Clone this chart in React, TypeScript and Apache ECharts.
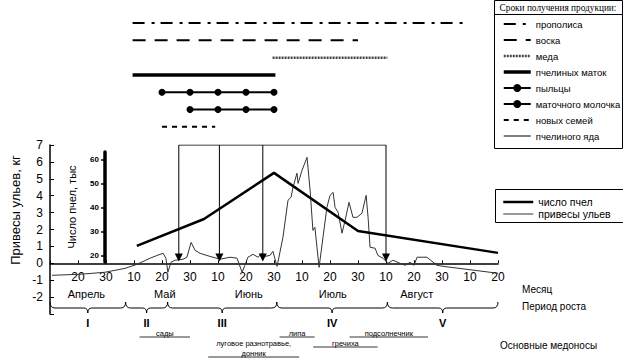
import React, { useEffect, useRef } from 'react';
import * as echarts from 'echarts';

// ---- data ----
const dekadLabels = ['', '20', '30', '10', '20', '30', '10', '20', '30', '10', '20', '30', '10', '20', '30', '10', '20'];
const monthNames = ['Апрель', 'Май', 'Июнь', 'Июль', 'Август'];
const monthPos = [1.3, 4.1, 7.1, 10.1, 13.1];
const periodNames = ['I', 'II', 'III', 'IV', 'V'];
const periodBounds = [0, 2.7, 4.2, 8.1, 12.05, 16];

// hive weight gain, kg (x in dekads from 10 April)
const weightPos = [0.07, 1.07, 1.96, 2.68, 3.11, 3.57, 3.93, 4.04, 4.14, 4.21, 4.32, 4.46, 4.75, 4.89, 5.04, 5.18, 5.36, 5.71, 6.07, 6.43, 6.68, 6.86, 6.96, 7.07, 7.25, 7.43, 7.57, 7.68, 7.86, 7.96, 8.11, 8.32, 8.5, 8.61, 8.68, 8.82, 8.86, 9.0, 9.18, 9.29, 9.39, 9.46, 9.61, 9.75, 9.89, 10.0, 10.11, 10.18, 10.29, 10.43, 10.54, 10.68, 10.82, 10.96, 11.14, 11.29, 11.36, 11.43, 11.61, 11.71, 11.89, 12.07, 12.25, 12.5, 12.68, 12.86, 13.0, 13.11, 13.46, 13.82, 14.04, 16.0];
const weightKg = [-0.71, -0.65, -0.53, -0.3, -0.06, 0.3, 0.53, 0.59, 0.3, -0.53, 0.06, 0.18, 0.24, 0.36, 1.24, 0.77, 0.59, 0.41, 0.24, 0.36, 0.3, -0.53, -0.12, 0.36, 0.53, 0.36, 0.59, 0.41, 0.47, 0.71, -0.18, 1.54, 3.73, 3.91, 4.5, 5.33, 4.73, 5.5, 6.27, 4.32, 1.95, 2.13, -0.24, 1.54, 3.31, 4.02, 4.2, 3.31, 3.02, 1.78, 2.54, 3.61, 2.72, 2.72, 2.96, 4.02, 2.72, 0.95, 0.89, 0.47, 0.3, 0, 0.18, 0, -0.12, 0.06, -0.12, 0.36, 0.36, -0.12, -0.18, -0.59];

// number of bees, thousands
const beePos = [3.1, 5.5, 8.0, 11.0, 16.0];
const beeThousands = [24.2, 35.4, 54.6, 30.4, 21.3];
const beeTicks = [20, 30, 40, 50, 60];

// production periods
const productNames = ['прополиса', 'воска', 'меда', 'пчелиных маток', 'пыльцы', 'маточного молочка', 'новых семей', 'пчелиного яда'];
const productStart = [2.95, 2.95, 7.95, 2.95, null, null, 4.0];
const productEnd = [14.8, 11.0, 12.05, 8.05, null, null, 5.9];
const pollenDays = [4, 5, 6, 7, 8];
const jellyDays = [5, 6, 7, 8];

// arrows (period markers)
const arrowPos = [4.6, 6.05, 7.6, 12.0];
const arrowTop = 7;
const arrowTip = 0.1;

// honey plants
const honeyNames = ['сады', 'липа', 'подсолнечник', 'луговое разнотравье,\nдонник', 'гречиха'];
const honeyStart = [3.2, 8.2, 10.7, 5.65, 9.4];
const honeyEnd = [5.0, 9.45, 13.5, 8.9, 11.7];
const honeyRow = [0, 0, 0, 2, 1];

const FONT = '"Liberation Sans", Arial, sans-serif';

const KG_MIN = -3;
const KG_MAX = 7;
const GRID0_TOP = 145;
const GRID0_H = 169;

export default function App() {
  const ref = useRef<HTMLDivElement>(null);
  useEffect(() => {
    const chart = echarts.init(ref.current!, null, { renderer: 'svg' });

    const productStyles: any[] = [
      { type: [12, 7, 3, 6], width: 2, color: '#000' },
      { type: [13, 9], width: 2, color: '#000' },
      { type: [2, 1], width: 2.5, color: '#444' },
      { type: 'solid', width: 3.5, color: '#000' },
      { type: 'solid', width: 2, color: '#000' },
      { type: 'solid', width: 2, color: '#000' },
      { type: [5, 5], width: 2, color: '#000' },
      { type: 'solid', width: 1, color: '#000' },
    ];

    const productSeries = productNames.map((name, i) => {
      let data: any[] = [];
      if (i === 4) data = pollenDays.map((d) => [d, name]);
      else if (i === 5) data = jellyDays.map((d) => [d, name]);
      else if (productStart[i] != null) data = [[productStart[i], name], [productEnd[i], name]];
      const st = productStyles[i];
      const dots = i === 4 || i === 5;
      return {
        type: 'line',
        name,
        xAxisIndex: 2,
        yAxisIndex: 2,
        data,
        symbol: dots ? 'circle' : 'none',
        symbolSize: 7,
        showSymbol: dots,
        lineStyle: { color: st.color, width: st.width, type: st.type },
        itemStyle: { color: '#000' },
        silent: true,
        z: 3,
      };
    });

    const monthSeries = {
      type: 'custom',
      xAxisIndex: 0,
      yAxisIndex: 0,
      silent: true,
      clip: false,
      data: monthPos.map((p) => [p, 0]),
      renderItem: (params: any, api: any) => {
        const x = api.coord([api.value(0), 0])[0];
        return {
          type: 'text',
          x,
          y: 294,
          style: { text: monthNames[params.dataIndex], font: `11px ${FONT}`, fill: '#000', align: 'center', verticalAlign: 'middle' },
        };
      },
    };

    const braceSeries = {
      type: 'custom',
      xAxisIndex: 0,
      yAxisIndex: 0,
      silent: true,
      clip: false,
      data: periodNames.map((_, i) => [periodBounds[i], periodBounds[i + 1]]),
      renderItem: (params: any, api: any) => {
        const x1 = api.coord([api.value(0), 0])[0];
        const x2 = api.coord([api.value(1), 0])[0];
        const cx = (x1 + x2) / 2;
        const y = 308;
        const d = `M${x1},${y - 6} Q${x1},${y} ${x1 + 5},${y} L${cx - 4},${y} Q${cx},${y} ${cx},${y + 5} Q${cx},${y} ${cx + 4},${y} L${x2 - 5},${y} Q${x2},${y} ${x2},${y - 6}`;
        return {
          type: 'group',
          children: [
            { type: 'path', shape: { pathData: d }, style: { stroke: '#000', fill: 'none', lineWidth: 1 } },
            {
              type: 'text',
              x: cx,
              y: 323,
              style: { text: periodNames[params.dataIndex], font: `bold 11px ${FONT}`, fill: '#000', align: 'center', verticalAlign: 'middle' },
            },
          ],
        };
      },
    };

    const honeySeries = {
      type: 'custom',
      xAxisIndex: 0,
      yAxisIndex: 0,
      silent: true,
      clip: false,
      data: honeyNames.map((_, i) => [honeyStart[i], honeyEnd[i]]),
      renderItem: (params: any, api: any) => {
        const i = params.dataIndex;
        const x1 = api.coord([api.value(0), 0])[0];
        const x2 = api.coord([api.value(1), 0])[0];
        const ly = 337 + honeyRow[i] * 10;
        return {
          type: 'group',
          children: [
            { type: 'line', shape: { x1, y1: ly, x2, y2: ly }, style: { stroke: '#000', lineWidth: 0.8 } },
            {
              type: 'text',
              x: (x1 + x2) / 2,
              y: ly + 1,
              style: { text: honeyNames[i], font: `7.5px ${FONT}`, fill: '#000', align: 'center', verticalAlign: 'bottom', lineHeight: 10 },
            },
          ],
        };
      },
    };

    const arrowSeries = {
      type: 'custom',
      xAxisIndex: 0,
      yAxisIndex: 0,
      silent: true,
      clip: false,
      z: 4,
      data: arrowPos.map((p) => [p, arrowTop]),
      renderItem: (params: any, api: any) => {
        const top = api.coord([api.value(0), arrowTop]);
        const tip = api.coord([api.value(0), arrowTip]);
        const x = top[0];
        return {
          type: 'group',
          children: [
            { type: 'line', shape: { x1: x, y1: top[1], x2: x, y2: tip[1] - 7 }, style: { stroke: '#000', lineWidth: 1 } },
            { type: 'polygon', shape: { points: [[x - 4, tip[1] - 8], [x + 4, tip[1] - 8], [x, tip[1]]] }, style: { fill: '#000' } },
          ],
        };
      },
    };

    // x axis sits on the zero line of the kg axis
    const xOffset = -(0 - KG_MIN) * (GRID0_H / (KG_MAX - KG_MIN));

    const option: any = {
      animation: false,
      backgroundColor: '#fff',
      textStyle: { fontFamily: FONT, color: '#000' },
      grid: [
        { left: 50, right: 125, top: GRID0_TOP, height: GRID0_H },
        { left: 50, right: 125, top: 152, height: 110 },
        { left: 50, right: 125, top: 14.4, height: 138.4 },
      ],
      xAxis: [
        {
          gridIndex: 0,
          type: 'value',
          position: 'bottom',
          offset: xOffset,
          min: 0,
          max: 16,
          interval: 1,
          axisLine: { onZero: false, lineStyle: { color: '#000', width: 1.5 } },
          axisTick: { inside: true, length: 3, lineStyle: { color: '#000' } },
          axisLabel: {
            formatter: (v: number) => dekadLabels[Math.round(v)] ?? '',
            fontSize: 12,
            fontFamily: FONT,
            color: '#000',
            margin: 8,
            showMinLabel: true,
            showMaxLabel: true,
          },
          splitLine: { show: false },
        },
        { gridIndex: 1, type: 'value', min: 0, max: 16, show: false },
        { gridIndex: 2, type: 'value', min: 0, max: 16, show: false },
      ],
      yAxis: [
        {
          gridIndex: 0,
          type: 'value',
          min: KG_MIN,
          max: KG_MAX,
          interval: 1,
          axisLine: { show: true, onZero: false, lineStyle: { color: '#000', width: 1.5 } },
          axisTick: { show: true, inside: true, length: 4, lineStyle: { color: '#000' } },
          axisLabel: { formatter: (v: number) => (v === KG_MIN ? '' : String(v)), fontSize: 12, fontFamily: FONT, color: '#000', margin: 7 },
          splitLine: { show: false },
        },
        {
          gridIndex: 1,
          type: 'value',
          min: 17.5,
          max: 63.3,
          offset: -55,
          name: 'Число пчел, тыс',
          nameLocation: 'middle',
          nameRotate: 90,
          nameGap: 28,
          nameTextStyle: { fontSize: 11, color: '#000', fontFamily: FONT },
          axisLine: { show: true, lineStyle: { color: '#000', width: 3.5 } },
          axisTick: { show: true, customValues: beeTicks, length: 4, lineStyle: { color: '#000', width: 1.5 } },
          axisLabel: { customValues: beeTicks, fontSize: 8, fontWeight: 'bold', color: '#000', margin: 6, fontFamily: FONT },
          splitLine: { show: false },
        },
        { gridIndex: 2, type: 'category', data: productNames, inverse: true, show: false },
      ],
      legend: [
        {
          orient: 'vertical',
          left: 502,
          top: 19,
          padding: 0,
          itemWidth: 27,
          itemHeight: 10,
          itemGap: 6,
          selectedMode: false,
          data: productNames.map((n, i) => ({ name: n, itemStyle: { opacity: i === 4 || i === 5 ? 1 : 0 } })),
          lineStyle: { width: 'inherit' },
          textStyle: { fontSize: 9.5, fontFamily: FONT, color: '#000', lineHeight: 10 },
        },
        {
          orient: 'vertical',
          left: 502,
          top: 196,
          padding: 0,
          itemWidth: 30,
          itemHeight: 12,
          itemGap: 0,
          selectedMode: false,
          data: [
            { name: 'число пчел', itemStyle: { opacity: 0 } },
            { name: 'привесы ульев', itemStyle: { opacity: 0 } },
          ],
          lineStyle: { width: 'inherit' },
          textStyle: { fontSize: 10.5, fontFamily: FONT, color: '#000', lineHeight: 12 },
        },
      ],
      graphic: [
        { type: 'rect', shape: { x: 494.5, y: 0.5, width: 128, height: 14 }, style: { fill: 'none', stroke: '#000', lineWidth: 1 } },
        { type: 'rect', shape: { x: 494.5, y: 14.5, width: 128, height: 134 }, style: { fill: 'none', stroke: '#000', lineWidth: 1 } },
        {
          type: 'text',
          x: 558,
          y: 8,
          style: { text: 'Сроки получения продукции:', font: '9.3px "Liberation Serif", serif', fill: '#000', align: 'center', verticalAlign: 'middle' },
        },
        { type: 'rect', shape: { x: 495.5, y: 189.5, width: 128, height: 33 }, style: { fill: 'none', stroke: '#000', lineWidth: 1 } },
        {
          type: 'text',
          x: 15,
          y: 210,
          rotation: Math.PI / 2,
          style: { text: 'Привесы ульев, кг', font: `13px ${FONT}`, fill: '#000', align: 'center', verticalAlign: 'middle' },
        },
        { type: 'text', x: 522, y: 289, style: { text: 'Месяц', font: `10px ${FONT}`, fill: '#000', align: 'left', verticalAlign: 'middle' } },
        { type: 'text', x: 522, y: 306, style: { text: 'Период роста', font: `10px ${FONT}`, fill: '#000', align: 'left', verticalAlign: 'middle' } },
        { type: 'text', x: 500, y: 345, style: { text: 'Основные медоносы', font: `10px ${FONT}`, fill: '#000', align: 'left', verticalAlign: 'middle' } },
      ],
      series: [
        ...productSeries,
        {
          type: 'line',
          name: 'привесы ульев',
          xAxisIndex: 0,
          yAxisIndex: 0,
          data: weightPos.map((p, i) => [p, weightKg[i]]),
          symbol: 'none',
          lineStyle: { color: '#333', width: 1 },
          itemStyle: { color: '#333' },
          silent: true,
          z: 2,
        },
        {
          type: 'line',
          name: 'число пчел',
          xAxisIndex: 1,
          yAxisIndex: 1,
          data: beePos.map((p, i) => [p, beeThousands[i]]),
          symbol: 'none',
          lineStyle: { color: '#000', width: 2.5 },
          itemStyle: { color: '#000' },
          silent: true,
          z: 3,
        },
        {
          type: 'line',
          xAxisIndex: 0,
          yAxisIndex: 0,
          data: [[arrowPos[0], arrowTop], [arrowPos[arrowPos.length - 1], arrowTop]],
          symbol: 'none',
          lineStyle: { color: '#000', width: 1 },
          silent: true,
          z: 4,
        },
        arrowSeries,
        monthSeries,
        braceSeries,
        honeySeries,
      ],
    };

    chart.setOption(option);
    return () => chart.dispose();
  }, []);

  return (
    <div
      ref={ref}
      style={{ position: 'fixed', left: 0, top: 0, width: 623, height: 361, background: '#fff' }}
    />
  );
}
